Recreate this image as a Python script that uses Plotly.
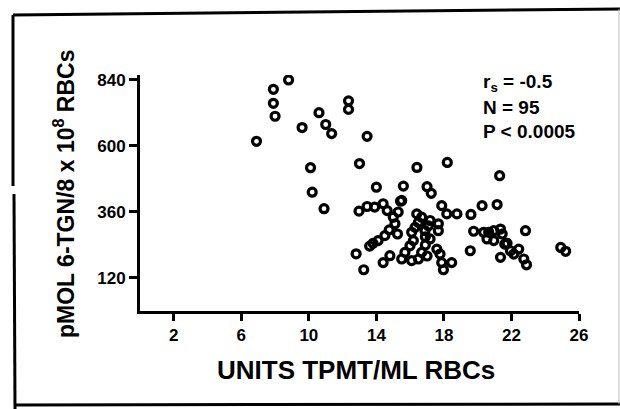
import plotly.graph_objects as go

# Data (UNITS TPMT/ML RBCs vs pMOL 6-TGN/8x10^8 RBCs)
tpmt = [
    6.9, 7.9, 7.9, 8.0, 8.8, 9.6, 10.1, 10.2, 10.6, 11.0, 11.35, 10.9, 12.35, 12.35,
    13.45, 13.0, 14.0, 15.6, 15.5, 16.4, 18.2, 17.0, 17.25, 21.3,
    12.8, 13.25, 12.97, 13.45, 13.9, 14.4, 14.64, 15.43, 15.29, 15.0, 15.1, 14.76,
    14.5, 14.1, 13.8, 13.6, 14.4, 14.8, 15.5, 15.69,
    15.99, 16.09, 16.49, 16.68, 16.19, 16.09, 16.29, 16.49, 16.39, 16.68, 17.18, 17.08,
    16.88, 17.67, 17.67, 17.18, 17.58, 17.77, 17.87, 16.9, 17.0, 17.87, 17.97, 18.46,
    18.17, 18.77,
    19.6, 20.26, 21.15, 19.56, 19.76, 20.35, 20.65, 20.95, 21.35, 21.45, 20.55, 20.95,
    21.74, 21.94, 22.43, 21.35, 22.73, 22.89, 22.83, 22.14, 24.92, 25.21,
    15.25, 16.9, 21.6,
]
tgn = [
    617, 806, 755, 708, 840, 667, 521, 432, 721, 678, 645, 372, 764, 733,
    635, 536, 450, 454, 402, 522, 540, 452, 428, 492,
    208, 150, 363, 380, 378, 390, 365, 399, 360, 341, 317, 295,
    274, 256, 246, 236, 176, 201, 189, 213,
    237, 183, 189, 213, 256, 286, 304, 322, 353, 341, 329, 310,
    292, 317, 292, 262, 225, 207, 383, 270, 200, 176, 150, 176,
    353, 353,
    351, 383, 387, 219, 290, 286, 286, 292, 298, 280, 262, 256,
    246, 219, 225, 195, 189, 168, 292, 207, 231, 217,
    280, 240, 243,
]
x_ticks = [2, 6, 10, 14, 18, 22, 26]
y_ticks = [120, 360, 600, 840]
stats_lines = ["r<sub>s</sub> = -0.5", "N = 95", "P < 0.0005"]

W, H = 620, 409
L, R, T, B = 140, 41, 75, 98
PW, PH = W - L - R, H - T - B


def px(xp):
    return (xp - L) / PW


def py(yp):
    return (H - B - yp) / PH


FONT = "Liberation Sans, Arial, sans-serif"

fig = go.Figure()
fig.add_trace(go.Scatter(
    x=tpmt, y=tgn, mode="markers",
    marker=dict(symbol="circle-open", size=8, color="black",
                line=dict(width=3.2, color="black")),
    hoverinfo="skip", showlegend=False,
))

axis_common = dict(
    showline=True, linecolor="black", linewidth=3, ticks="outside",
    tickcolor="black", tickwidth=3, showgrid=False, zeroline=False,
    tickfont=dict(family=FONT, size=17, color="black", weight="bold"),
)
fig.update_xaxes(range=[0, 26], tickvals=x_ticks, ticklen=7, **axis_common)
fig.update_yaxes(range=[0, 858], tickvals=y_ticks, ticklen=8, **axis_common)

annotations = [
    dict(text="UNITS TPMT/ML RBCs", xref="paper", yref="paper",
         x=px(356), y=py(370), showarrow=False, xanchor="center", yanchor="middle",
         font=dict(family=FONT, size=26, color="black", weight="bold")),
    dict(text="pMOL 6-TGN/8 x 10<sup>8</sup> RBCs", xref="paper", yref="paper",
         x=px(64), y=py(194), showarrow=False, textangle=-90,
         xanchor="center", yanchor="middle",
         font=dict(family=FONT, size=23, color="black", weight="bold")),
]
for i, line in enumerate(stats_lines):
    annotations.append(dict(
        text=line, xref="paper", yref="paper", x=px(481), y=py(83 + 24 * i),
        showarrow=False, xanchor="left", yanchor="middle",
        font=dict(family=FONT, size=19, color="black", weight="bold")))

shapes = [
    # outer frame (scanned border)
    dict(type="line", xref="paper", yref="paper", x0=px(13), y0=py(15), x1=px(620), y1=py(9),
         line=dict(color="black", width=3)),
    dict(type="line", xref="paper", yref="paper", x0=px(13), y0=py(15), x1=px(13), y1=py(186),
         line=dict(color="black", width=3)),
    dict(type="line", xref="paper", yref="paper", x0=px(14), y0=py(194), x1=px(15), y1=py(409),
         line=dict(color="black", width=3)),
    dict(type="line", xref="paper", yref="paper", x0=px(15), y0=py(405), x1=px(620), y1=py(404),
         line=dict(color="black", width=3)),
    dict(type="line", xref="paper", yref="paper", x0=px(619), y0=py(9), x1=px(619), y1=py(404),
         line=dict(color="#bbbbbb", width=1)),
]

fig.update_layout(
    width=W, height=H, margin=dict(l=L, r=R, t=T, b=B, pad=0),
    paper_bgcolor="white", plot_bgcolor="white",
    annotations=annotations, shapes=shapes, showlegend=False,
)

fig.write_html("out.html")
